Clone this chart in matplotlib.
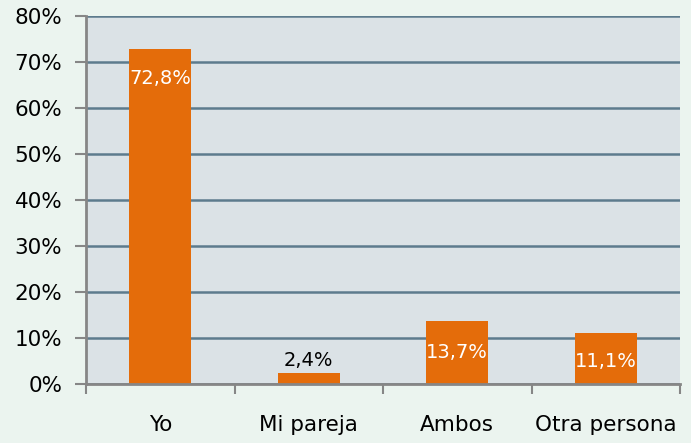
import matplotlib.pyplot as plt

# datos
categorias = ["Yo", "Mi pareja", "Ambos", "Otra persona"]
valores = [72.8, 2.4, 13.7, 11.1]
etiquetas = ["72,8%", "2,4%", "13,7%", "11,1%"]
yticks = [0, 10, 20, 30, 40, 50, 60, 70, 80]

plt.rcParams['font.family'] = ['DejaVu Sans']

fig = plt.figure(figsize=(6.91, 4.43), dpi=100)
fig.patch.set_facecolor("#ebf4ef")
ax = fig.add_axes([86/691, 1-384/443, 594/691, 368/443])
ax.set_facecolor("#dbe2e6")

x = list(range(len(categorias)))
ax.bar(x, valores, width=0.42, color="#e46c0a", zorder=3)

ax.set_xlim(-0.5, len(categorias) - 0.5)
ax.set_ylim(0, 80)
ax.set_yticks(yticks)
ax.set_yticklabels([f"{v}%" for v in yticks], fontsize=15.5)
ax.yaxis.grid(True, color="#5d7b8d", linewidth=1.8, zorder=1)
ax.set_axisbelow(True)

# ticks del eje x en los limites de categoria
ax.set_xticks([i - 0.5 for i in range(len(categorias) + 1)], minor=False)
ax.set_xticklabels([""] * (len(categorias) + 1))
ax.set_xticks(x, minor=True)
ax.set_xticklabels(categorias, minor=True, fontsize=15.5)
ax.tick_params(axis="x", which="minor", length=0, pad=22)
ax.tick_params(axis="x", which="major", length=7, width=1.5, color="#868686")
ax.tick_params(axis="y", length=8, width=1.5, color="#868686", pad=9)

for s in ["top", "right"]:
    ax.spines[s].set_visible(False)
for s in ["left", "bottom"]:
    ax.spines[s].set_color("#868686")
    ax.spines[s].set_linewidth(2)
    ax.spines[s].set_zorder(4)

# etiquetas de valores
ax.text(x[0], valores[0] - 6.3, etiquetas[0], ha="center", va="center", color="white", fontsize=14)
ax.text(x[1], valores[1] + 0.6, etiquetas[1], ha="center", va="bottom", color="black", fontsize=14)
ax.text(x[2], valores[2] / 2, etiquetas[2], ha="center", va="center", color="white", fontsize=14)
ax.text(x[3], valores[3] / 2 - 0.6, etiquetas[3], ha="center", va="center", color="white", fontsize=14)

plt.savefig("out.png", dpi=100, facecolor=fig.get_facecolor())
